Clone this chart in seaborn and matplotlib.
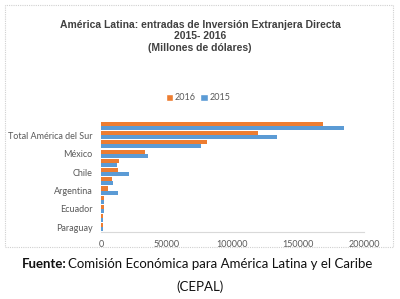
import pandas as pd
import matplotlib
matplotlib.use('Agg')
import matplotlib.pyplot as plt
import matplotlib.patches as patches
import seaborn as sns

# Data (millones de dolares)
paises = ['Total América Latina y el Caribe', 'Total América del Sur', 'Brasil', 'México',
          'Colombia', 'Chile', 'Perú', 'Argentina', 'Uruguay', 'Ecuador', 'Bolivia', 'Paraguay']
ied_2016 = [169000, 119600, 80600, 33600, 14000, 13200, 8100, 5600, 2200, 2100, 1400, 1300]
ied_2015 = [184500, 133600, 76300, 36100, 12400, 21600, 9400, 12700, 2500, 2400, 1500, 1400]
etiquetas = ['', 'Total América del Sur', '', 'México', '', 'Chile', '', 'Argentina',
             '', 'Ecuador', '', 'Paraguay']
anios = ['2016', '2015']
colores = ['#ED7D31', '#5B9BD5']
x_ticks = [0, 50000, 100000, 150000, 200000]

df = pd.DataFrame({
    'pais': paises * 2,
    'valor': ied_2016 + ied_2015,
    'anio': ['2016'] * len(paises) + ['2015'] * len(paises),
})

sns.set_style('white')
plt.rcParams['font.family'] = ['Lato', 'DejaVu Sans']

fig = plt.figure(figsize=(4, 2.99), dpi=100)
ax = fig.add_axes([0.2525, 0.224, 0.6575, 0.37])

sns.barplot(data=df, y='pais', x='valor', hue='anio', hue_order=anios,
            palette=colores, order=paises, orient='h', width=0.88,
            saturation=1, linewidth=0, ax=ax, legend=False)

ax.set_ylim(len(paises) - 0.5, -0.5)
ax.set_xlim(0, 200000)
ax.set_xticks(x_ticks)
ax.set_xticklabels([str(t) for t in x_ticks])
ax.set_yticks(range(len(paises)))
ax.set_yticklabels(etiquetas)
ax.set_xlabel('')
ax.set_ylabel('')
ax.tick_params(axis='both', length=0, labelsize=6.5, colors='#595959', pad=6)
for s in ['top', 'right', 'left']:
    ax.spines[s].set_visible(False)
ax.spines['bottom'].set_color('#d9d9d9')
ax.spines['bottom'].set_linewidth(0.8)

# legend
handles = [patches.Patch(facecolor=c, label=a) for a, c in zip(anios, colores)]
fig.legend(handles=handles, loc='center', bbox_to_anchor=(0.495, 1 - 98 / 299), ncol=2,
           frameon=False, fontsize=6.5, handlelength=0.8, handleheight=0.8,
           handletextpad=0.2, columnspacing=0.5, labelcolor='#595959')

# titles
title_font = ['Liberation Sans', 'DejaVu Sans']
fig.text(0.5, 1 - 25 / 299, 'América Latina: entradas de Inversión Extranjera Directa',
         ha='center', va='center', fontsize=7.5, fontweight='bold', color='#404040', family=title_font)
fig.text(0.5, 1 - 36 / 299, '2015- 2016', ha='center', va='center', fontsize=7.5,
         fontweight='bold', color='#404040', family=title_font)
fig.text(0.5, 1 - 48 / 299, '(Millones de dólares)', ha='center', va='center', fontsize=7.5,
         fontweight='bold', color='#404040', family=title_font)

# chart border
fig.patches.append(patches.Rectangle((5 / 400, 1 - 247 / 299), 388 / 400, 242 / 299,
                                     transform=fig.transFigure, fill=False,
                                     edgecolor='#d0d0d0', lw=0.8, ls=(0, (1, 1))))

# source
fig.canvas.draw()
renderer = fig.canvas.get_renderer()
t1 = fig.text(22 / 400, 1 - 264 / 299, 'Fuente:', ha='left', va='center', fontsize=9.5,
              fontweight='bold', color='#111111')
bb = t1.get_window_extent(renderer).transformed(fig.transFigure.inverted())
fig.text(bb.x1 + 0.004, 1 - 264 / 299, 'Comisión Económica para América Latina y el Caribe',
         ha='left', va='center', fontsize=9.5, color='#111111')
fig.text(0.5, 1 - 287 / 299, '(CEPAL)', ha='center', va='center', fontsize=9.5, color='#111111')

fig.savefig('out.png', dpi=100)
